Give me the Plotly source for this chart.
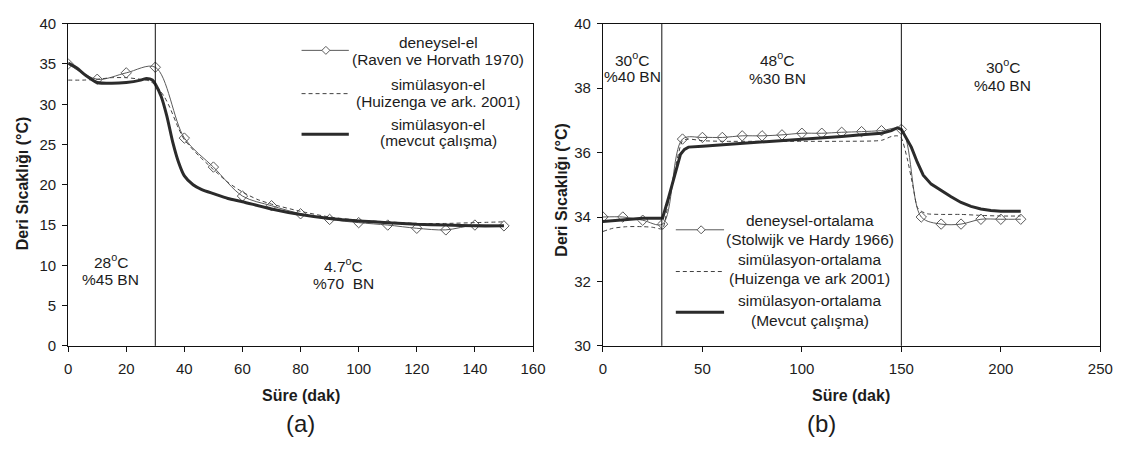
import plotly.graph_objects as go

# ---------------- data: panel (a) ----------------
a_exp_x = [0, 10, 20, 30, 40, 50, 60, 70, 80, 90, 100, 110, 120, 130, 140, 150]
a_exp_y = [35.0, 33.1, 33.9, 34.6, 25.8, 22.2, 18.6, 17.4, 16.4, 15.7, 15.3, 15.0, 14.6, 14.4, 15.0, 14.9]

a_hz_x = [0, 5, 10, 15, 20, 25, 28, 30, 33, 35, 38, 40, 45, 50, 55, 60, 65, 70, 80, 90, 100, 110, 120, 130, 140, 150]
a_hz_y = [33.0, 33.0, 33.1, 33.3, 33.3, 33.1, 32.9, 32.4, 31.0, 29.6, 27.0, 25.6, 23.6, 21.9, 20.3, 19.1, 18.2, 17.6,
          16.7, 16.0, 15.6, 15.4, 15.2, 15.2, 15.3, 15.4]

a_mc_x = [0, 3, 6, 10, 15, 20, 25, 27, 29, 30, 32, 34, 36, 38, 40, 43, 46, 50, 55, 60, 70, 80, 90, 100, 110, 120,
          130, 140, 150]
a_mc_y = [35.1, 34.5, 33.6, 32.7, 32.6, 32.7, 33.0, 33.2, 33.0, 32.5, 31.0, 28.5, 25.3, 22.8, 21.1, 20.0, 19.4, 18.9,
          18.3, 17.9, 17.0, 16.3, 15.8, 15.5, 15.3, 15.1, 15.0, 14.9, 14.9]

a_phase_bounds = [30]
a_labels = [("28<sup>o</sup>C", 14.6, 10.5), ("%45 BN", 14.6, 8.3),
            ("4.7<sup>o</sup>C", 94.9, 10.1), ("%70\u00a0 BN", 94.9, 7.8)]
a_names = [["deneysel-el", "(Raven ve Horvath 1970)"],
           ["simülasyon-el", "(Huizenga ve ark. 2001)"],
           ["simülasyon-el", "(mevcut çalışma)"]]

# ---------------- data: panel (b) ----------------
b_exp_x = [0, 10, 20, 30, 40, 50, 60, 70, 80, 90, 100, 110, 120, 130, 140, 150, 160, 170, 180, 190, 200, 210]
b_exp_y = [34.0, 34.0, 33.9, 33.78, 36.42, 36.47, 36.47, 36.52, 36.52, 36.55, 36.6, 36.6, 36.63, 36.65, 36.68,
           36.72, 34.0, 33.78, 33.78, 33.93, 33.93, 33.93]

b_hz_x = [0, 5, 12, 20, 25, 28, 30, 33, 36, 40, 43, 50, 60, 80, 100, 120, 140, 145, 148, 150, 153, 156, 158, 160,
          163, 170, 180, 190, 200, 210]
b_hz_y = [33.55, 33.65, 33.70, 33.70, 33.68, 33.64, 33.63, 34.5, 35.4, 36.37, 36.42, 36.37, 36.35, 36.35, 36.35,
          36.35, 36.38, 36.5, 36.52, 36.45, 35.8, 34.9, 34.3, 34.18, 34.1, 34.08, 34.08, 34.05, 34.03, 34.03]

b_mc_x = [0, 10, 20, 29, 30, 33, 36, 39, 41, 43, 50, 60, 70, 80, 90, 100, 110, 120, 130, 140, 145, 148, 150, 152,
          155, 158, 161, 165, 170, 175, 180, 185, 190, 195, 200, 210]
b_mc_y = [33.86, 33.9, 33.96, 33.96, 33.97, 34.6, 35.3, 35.95, 36.1, 36.17, 36.2, 36.24, 36.28, 36.33, 36.37, 36.42,
          36.45, 36.5, 36.55, 36.6, 36.68, 36.77, 36.72, 36.5, 36.17, 35.7, 35.3, 35.02, 34.82, 34.63, 34.45,
          34.33, 34.25, 34.2, 34.18, 34.18]

b_phase_bounds = [29.6, 150]
b_labels = [("30<sup>o</sup>C", 14.8, 38.9), ("%40 BN", 14.8, 38.36),
            ("48<sup>o</sup>C", 87.5, 38.89), ("%30 BN", 87.5, 38.31),
            ("30<sup>o</sup>C", 200.9, 38.68), ("%40 BN", 200.9, 38.08)]
b_names = [["deneysel-ortalama", "(Stolwijk ve Hardy 1966)"],
           ["simülasyon-ortalama", "(Huizenga ve ark 2001)"],
           ["simülasyon-ortalama", "(Mevcut çalışma)"]]

x_title = "Süre (dak)"
y_title = "Deri Sıcaklığı (°C)"

# ---------------- layout helpers ----------------
PAGE_MARGIN = 8                      # default body margin of the html page
FW, FH = 1133 - PAGE_MARGIN, 450 - PAGE_MARGIN   # figure reaches the window's right and bottom edges


def X(p):  # window pixel -> paper x
    return (p - PAGE_MARGIN) / FW


def Y(p):  # window pixel -> paper y
    return 1 - (p - PAGE_MARGIN) / FH


FONT = "Liberation Sans, Arial, sans-serif"
TXT = "#1c1c1c"
EXP_COL = "#5a5a5a"
DASH_COL = "#404040"
THICK_COL = "#2b2b2b"

fig = go.Figure()


def add_panel(series, names, xa, ya, mc_shape):
    (ex, ey), (hx, hy), (mx, my) = series
    fig.add_trace(go.Scatter(x=ex, y=ey, mode="lines+markers", name=" ".join(names[0]), xaxis=xa, yaxis=ya,
                             line=dict(color=EXP_COL, width=1, shape="spline", smoothing=0.9),
                             marker=dict(symbol="diamond-open", size=8, color=EXP_COL, line=dict(width=1))))
    fig.add_trace(go.Scatter(x=hx, y=hy, mode="lines", name=" ".join(names[1]), xaxis=xa, yaxis=ya,
                             line=dict(color=DASH_COL, width=1, dash="4px,3px", shape="spline", smoothing=0.6)))
    fig.add_trace(go.Scatter(x=mx, y=my, mode="lines", name=" ".join(names[2]), xaxis=xa, yaxis=ya,
                             line=dict(color=THICK_COL, width=3, shape=mc_shape, smoothing=0.6)))


add_panel([(a_exp_x, a_exp_y), (a_hz_x, a_hz_y), (a_mc_x, a_mc_y)], a_names, "x", "y", "spline")
add_panel([(b_exp_x, b_exp_y), (b_hz_x, b_hz_y), (b_mc_x, b_mc_y)], b_names, "x2", "y2", "linear")

shapes = []
for xb in a_phase_bounds:
    shapes.append(dict(type="line", xref="x", yref="y domain", x0=xb, x1=xb, y0=0, y1=1,
                       line=dict(color="#111", width=1)))
for xb in b_phase_bounds:
    shapes.append(dict(type="line", xref="x2", yref="y2 domain", x0=xb, x1=xb, y0=0, y1=1,
                       line=dict(color="#111", width=1)))

ann = []
for t, x, y in a_labels:
    ann.append(dict(text=t, x=x, y=y, xref="x", yref="y", showarrow=False, xanchor="center", yanchor="middle",
                    font=dict(size=15.5, color=TXT, family=FONT)))
for t, x, y in b_labels:
    ann.append(dict(text=t, x=x, y=y, xref="x2", yref="y2", showarrow=False, xanchor="center", yanchor="middle",
                    font=dict(size=15.5, color=TXT, family=FONT)))


# ---- legends (drawn as key samples + centred two-line captions) ----
def add_legend(names, x0, x1, diamond_x, sample_ys, text_cx, text_ys, fsize):
    styles = [dict(color=EXP_COL, width=1), dict(color=DASH_COL, width=1, dash="4px,3px"),
              dict(color=THICK_COL, width=3)]
    for i, sy in enumerate(sample_ys):
        shapes.append(dict(type="line", xref="paper", yref="paper", x0=X(x0), x1=X(x1), y0=Y(sy), y1=Y(sy),
                           line=styles[i]))
    shapes.append(dict(type="path", xref="paper", yref="paper", xsizemode="pixel", ysizemode="pixel",
                       xanchor=X(diamond_x), yanchor=Y(sample_ys[0]), path="M-4,0L0,4L4,0L0,-4Z",
                       fillcolor="white", line=dict(color=EXP_COL, width=1)))
    k = 0
    for e in names:
        for line in e:
            ann.append(dict(text=line, x=X(text_cx), y=Y(text_ys[k]), xref="paper", yref="paper",
                            showarrow=False, xanchor="center", yanchor="middle",
                            font=dict(size=fsize, color=TXT, family=FONT)))
            k += 1


add_legend(a_names, 302, 350, 326.7, [42.7, 87.7, 130], 441, [35, 52.7, 78.3, 96, 119.3, 136.7], 15.4)
add_legend(b_names, 682, 731, 707.7, [229.3, 272.7, 315], 818, [219.3, 239.3, 260, 280, 303.3, 323.3], 15.5)

tfont = dict(size=16, color=TXT, family=FONT, weight="bold")
for cx in (301, 860):
    ann.append(dict(text=x_title, x=X(cx), y=Y(402), xref="paper", yref="paper", showarrow=False,
                    xanchor="center", yanchor="middle", font=tfont))
for cx, cy in ((18, 181), (565, 188)):
    ann.append(dict(text=y_title, x=X(cx), y=Y(cy), xref="paper", yref="paper", showarrow=False,
                    xanchor="center", yanchor="middle", textangle=-90, font=tfont))
for t, cx in (("(a)", 301), ("(b)", 830)):
    ann.append(dict(text=t, x=X(cx), y=Y(431), xref="paper", yref="paper", showarrow=False,
                    xanchor="center", yanchor="middle", font=dict(size=24, color=TXT, family=FONT)))

ax_common = dict(showline=True, mirror=True, linecolor="#111", linewidth=1, ticks="outside", ticklen=5,
                 tickcolor="#111", showgrid=False, zeroline=False, ticklabeloverflow="allow",
                 tickfont=dict(size=15, color=TXT, family=FONT))

ydom = [Y(350), Y(15)]
fig.update_layout(
    width=FW, height=FH, margin=dict(l=0, r=0, t=0, b=0),
    paper_bgcolor="white", plot_bgcolor="white",
    font=dict(family=FONT, color=TXT, size=15),
    xaxis=dict(domain=[X(65), X(537)], range=[0, 160], dtick=20, anchor="y", ticklabelstandoff=4, **ax_common),
    yaxis=dict(domain=ydom, range=[0, 40], dtick=5, anchor="x", ticklabelstandoff=3, **ax_common),
    xaxis2=dict(domain=[X(608), X(1113)], range=[0, 250], dtick=50, anchor="y2", ticklabelstandoff=4,
                **ax_common),
    yaxis2=dict(domain=ydom, range=[30, 40], dtick=2, anchor="x2", ticklabelstandoff=3, **ax_common),
    shapes=shapes, annotations=ann, showlegend=False,
)

fig.write_html("out.html", config={"displayModeBar": False})
